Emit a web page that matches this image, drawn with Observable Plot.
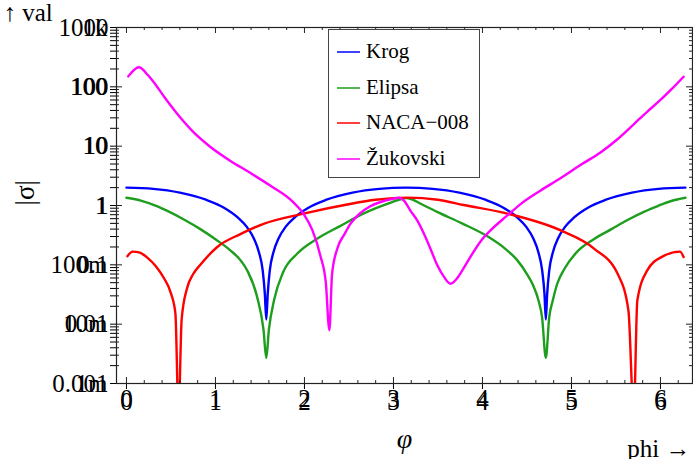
<!DOCTYPE html>
<html>
<head>
<meta charset="utf-8">
<script src="https://cdn.jsdelivr.net/npm/d3@7"></script>
<script src="https://cdn.jsdelivr.net/npm/@observablehq/plot@0.6"></script>
<style>
  body { margin: 0; background: #fff; }
  #wrap { position: relative; width: 693px; height: 459px; }
  #legend { position: absolute; left: 328px; top: 29px; width: 152px; height: 149px; box-sizing: border-box; border: 1.5px solid #444; background: #fff; }
  .item { position: absolute; left: 0; height: 0; }
  .sw { position: absolute; left: 8px; width: 23px; height: 2px; top: -1px; }
  .lab { position: absolute; left: 37px; top: -14px; font-size: 21px; line-height: 26px; white-space: nowrap; color: #000; }
</style>
</head>
<body>
<div id="wrap"><div id="chart"></div><div id="legend"></div></div>
<script>
// ---- data ----
const seriesNames  = ["Krog", "Elipsa", "NACA\u2212008", "\u017Dukovski"];
const seriesColors = ["#0000ff", "#1e9e1e", "#ff0000", "#ff00ff"];

const krogPhi = [0, 0.3, 0.6, 0.9, 1.1, 1.25, 1.35, 1.43, 1.49, 1.53, 1.555, 1.571, 1.587, 1.61, 1.65, 1.71, 1.79, 1.89, 2.04, 2.24, 2.54, 2.84, 3.14, 3.44, 3.74, 4.04, 4.24, 4.39, 4.49, 4.57, 4.63, 4.67, 4.697, 4.712, 4.727, 4.75, 4.79, 4.85, 4.93, 5.03, 5.18, 5.38, 5.68, 5.98, 6.28];
const krogVal = [2.0, 1.91, 1.65, 1.24, 0.91, 0.63, 0.44, 0.28, 0.16, 0.082, 0.032, 0.012, 0.032, 0.08, 0.16, 0.28, 0.44, 0.63, 0.91, 1.24, 1.65, 1.91, 2.0, 1.91, 1.65, 1.24, 0.91, 0.63, 0.44, 0.28, 0.16, 0.082, 0.032, 0.012, 0.032, 0.08, 0.16, 0.28, 0.44, 0.63, 0.91, 1.24, 1.65, 1.91, 2.0];

const elipsaPhi = [0, 0.17, 0.34, 0.46, 0.65, 0.83, 1.0, 1.17, 1.28, 1.36, 1.47, 1.54, 1.571, 1.60, 1.66, 1.76, 1.92, 2.15, 2.4, 2.66, 2.97, 3.1, 3.14, 3.19, 3.3, 3.49, 3.77, 4.06, 4.25, 4.39, 4.5, 4.57, 4.63, 4.67, 4.712, 4.75, 4.79, 4.84, 4.92, 5.07, 5.25, 5.45, 5.63, 5.82, 5.97, 6.12, 6.28];
const elipsaVal = [1.35, 1.2, 0.98, 0.81, 0.575, 0.40, 0.27, 0.174, 0.12, 0.079, 0.028, 0.008, 0.0027, 0.008, 0.026, 0.075, 0.155, 0.28, 0.45, 0.73, 1.12, 1.3, 1.33, 1.3, 1.08, 0.78, 0.5, 0.3, 0.19, 0.12, 0.07, 0.045, 0.025, 0.013, 0.0027, 0.013, 0.025, 0.048, 0.085, 0.17, 0.27, 0.40, 0.57, 0.79, 0.98, 1.19, 1.35];

const nacaPhi = [0.01, 0.07, 0.15, 0.24, 0.33, 0.42, 0.5, 0.55, 0.585, 0.62, 0.68, 0.75, 0.83, 1.02, 1.28, 1.54, 1.99, 2.48, 2.8, 3.16, 3.5, 3.79, 4.28, 4.88, 5.25, 5.52, 5.64, 5.70, 5.74, 5.85, 6.03, 6.22, 6.26];
const nacaVal = [0.14, 0.167, 0.16, 0.13, 0.095, 0.06, 0.033, 0.015, 0.0003, 0.012, 0.04, 0.07, 0.1, 0.2, 0.33, 0.49, 0.73, 1.04, 1.25, 1.36, 1.25, 1.02, 0.73, 0.38, 0.19, 0.07, 0.017, 0.0003, 0.025, 0.08, 0.14, 0.167, 0.135];

const zukPhi = [0.02, 0.14, 0.24, 0.30, 0.45, 0.60, 0.75, 0.94, 1.16, 1.39, 1.61, 1.87, 1.99, 2.09, 2.18, 2.24, 2.28, 2.31, 2.37, 2.45, 2.52, 2.63, 2.74, 2.88, 3.0, 3.06, 3.12, 3.19, 3.27, 3.34, 3.42, 3.49, 3.57, 3.64, 3.71, 3.77, 3.87, 3.98, 4.09, 4.27, 4.45, 4.65, 4.88, 5.1, 5.33, 5.52, 5.70, 5.85, 6.0, 6.13, 6.26];
const zukVal = [150, 214, 158, 123, 60, 31, 17.4, 9.8, 5.75, 3.55, 2.19, 1.15, 0.72, 0.38, 0.14, 0.05, 0.0079, 0.07, 0.19, 0.33, 0.5, 0.75, 0.97, 1.18, 1.3, 1.36, 1.2, 0.82, 0.55, 0.34, 0.18, 0.1, 0.062, 0.048, 0.058, 0.079, 0.14, 0.25, 0.38, 0.66, 1.12, 1.78, 2.9, 4.8, 7.9, 13.2, 23.4, 38, 60, 93, 148];

const xTickValues = [0, 1, 2, 3, 4, 5, 6];
const xTickLabels = ["0", "1", "2", "3", "4", "5", "6"];
const yTickValues = [0.001, 0.01, 0.1, 1, 10, 100, 1000];
const yTickLabels = ["0.001", "0.01", "0.1", "1", "10", "100", "1000"];
const xAxisLabel = "\u03C6";
const yAxisLabel = "|\u03C3|";

// ---- build table ----
const allPhi = [krogPhi, elipsaPhi, nacaPhi, zukPhi];
const allVal = [krogVal, elipsaVal, nacaVal, zukVal];
const rows = [];
seriesNames.forEach((name, s) => {
  allPhi[s].forEach((p, i) => rows.push({ phi: p, val: allVal[s][i], series: name }));
});

const xMinor = d3.range(0, 6.41, 0.2).map(v => Math.round(v * 10) / 10).filter(v => Math.abs(v - Math.round(v)) > 1e-6);
const yMinor = [];
for (let e = -3; e < 3; e++) for (let m = 2; m <= 9; m++) yMinor.push(m * Math.pow(10, e));

const W = 693, H = 459, mL = 116, mR = 1, mT = 27, mB = 76;
const pH = H - mT - mB, pW = W - mL - mR;
const tickCol = "#222";
const serif = "Liberation Serif";

const lineMarks = seriesNames.map((name, s) =>
  Plot.line(rows.filter(r => r.series === name), {
    x: "phi", y: "val", stroke: seriesColors[s], strokeWidth: 2.4,
    curve: "monotone-x", clip: true
  })
);

const chart = Plot.plot({
  width: W, height: H,
  marginLeft: mL, marginRight: mR, marginTop: mT, marginBottom: mB,
  style: { fontFamily: serif, fontSize: "25px" },
  x: { domain: [-0.112, 6.36] },
  y: { type: "log", domain: [0.001, 1000] },
  marks: [
    ...lineMarks,
    Plot.frame({ stroke: tickCol, strokeWidth: 1.2 }),
    Plot.tickX(xTickValues, { x: d => d, insetTop: pH - 6, stroke: tickCol }),
    Plot.tickX(xTickValues, { x: d => d, insetBottom: pH - 6, stroke: tickCol }),
    Plot.tickX(xMinor, { x: d => d, insetTop: pH - 3, stroke: tickCol }),
    Plot.tickX(xMinor, { x: d => d, insetBottom: pH - 3, stroke: tickCol }),
    Plot.tickY(yTickValues, { y: d => d, insetRight: pW - 6, stroke: tickCol }),
    Plot.tickY(yTickValues, { y: d => d, insetLeft: pW - 6, stroke: tickCol }),
    Plot.tickY(yMinor, { y: d => d, insetRight: pW - 3, stroke: tickCol }),
    Plot.tickY(yMinor, { y: d => d, insetLeft: pW - 3, stroke: tickCol }),
    Plot.text(xTickValues, { x: d => d, frameAnchor: "bottom", text: (d, i) => xTickLabels[i], dy: 23, fontFamily: d => serif, fontSize: 25 }),
    Plot.text(yTickValues, { y: d => d, frameAnchor: "left", text: (d, i) => yTickLabels[i], dx: -8, textAnchor: "end", fontFamily: d => serif, fontSize: 25 }),
    Plot.text([yAxisLabel], { text: d => d, frameAnchor: "left", dx: -91, rotate: -90, fontSize: 27, fontFamily: d => serif }),
    Plot.text([xAxisLabel], { text: d => d, frameAnchor: "bottom", dy: 64, fontSize: 28, fontStyle: "italic", fontFamily: d => serif })
  ]
});
document.getElementById("chart").appendChild(chart);

const legend = document.getElementById("legend");
const itemTops = [22, 58, 93, 129];
seriesNames.forEach((name, s) => {
  const it = document.createElement("div");
  it.className = "item";
  it.style.top = itemTops[s] + "px";
  const sw = document.createElement("div");
  sw.className = "sw";
  sw.style.background = seriesColors[s];
  sw.style.opacity = "0.75";
  const lab = document.createElement("div");
  lab.className = "lab";
  lab.style.fontFamily = "'" + serif + "'";
  lab.textContent = name;
  it.appendChild(sw); it.appendChild(lab);
  legend.appendChild(it);
});
</script>
</body>
</html>
